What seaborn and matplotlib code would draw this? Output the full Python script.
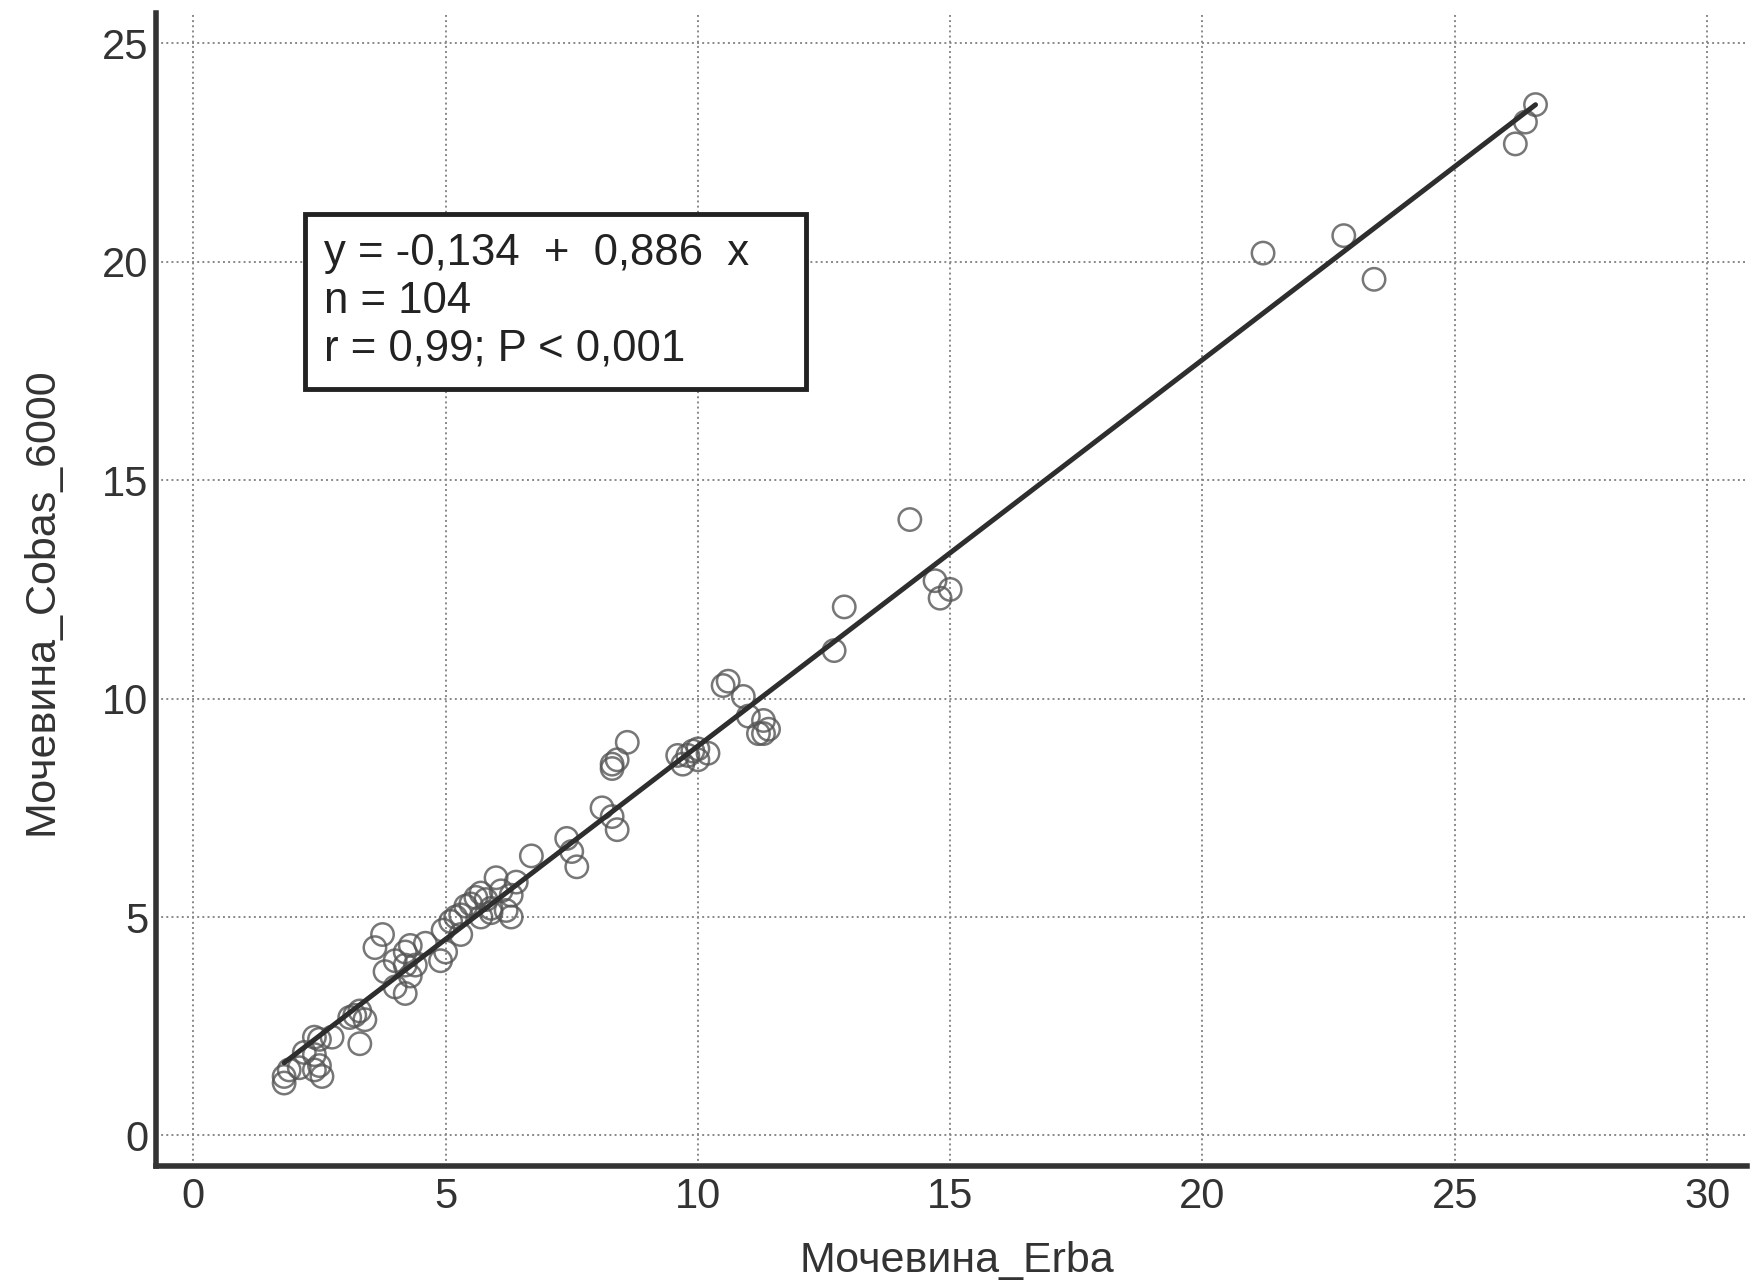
import numpy as np
import pandas as pd
import matplotlib
matplotlib.use('Agg')
import matplotlib.pyplot as plt
import seaborn as sns

# values (Erba vs Cobas 6000 urea)
erba = [
    1.8, 1.8, 1.9, 2.1, 2.2, 2.4, 2.4, 2.4, 2.5, 2.55, 2.5, 2.75,
    3.2, 3.3, 3.4, 3.3, 3.1,
    3.75, 3.6, 3.8, 4.0, 4.2, 4.2, 4.3, 4.3, 4.4, 4.2, 4.6, 4.0,
    4.9, 4.95, 5.0, 5.3, 5.1, 5.2, 5.3, 5.4, 5.6, 5.7, 5.7, 5.9, 5.9,
    6.0, 6.2, 6.3, 6.3, 6.4, 5.5, 5.8, 6.1,
    6.7, 7.4, 7.5, 7.6,
    8.1, 8.3, 8.4, 8.3, 8.4, 8.6, 8.3,
    9.6, 9.7, 9.8, 10.0, 10.2, 10.0, 9.9,
    10.5, 10.6, 10.9, 11.0, 11.3, 11.3, 11.2, 11.4,
    12.7, 12.9,
    14.2, 14.7, 14.8, 15.0,
    21.2, 22.8, 23.4,
    26.2, 26.4, 26.6,
]
cobas = [
    1.35, 1.2, 1.5, 1.55, 1.9, 2.25, 1.85, 1.5, 1.6, 1.35, 2.2, 2.25,
    2.75, 2.85, 2.65, 2.1, 2.7,
    4.6, 4.3, 3.75, 3.4, 4.2, 3.9, 4.35, 3.65, 3.9, 3.25, 4.4, 4.0,
    4.0, 4.7, 4.2, 4.6, 4.9, 5.0, 5.05, 5.25, 5.45, 5.55, 5.0, 5.2, 5.1,
    5.9, 5.15, 5.5, 5.0, 5.8, 5.3, 5.4, 5.6,
    6.4, 6.8, 6.5, 6.15,
    7.5, 7.3, 7.0, 8.4, 8.6, 9.0, 8.5,
    8.7, 8.5, 8.7, 8.85, 8.75, 8.6, 8.8,
    10.3, 10.4, 10.05, 9.6, 9.5, 9.2, 9.2, 9.3,
    11.1, 12.1,
    14.1, 12.7, 12.3, 12.5,
    20.2, 20.6, 19.6,
    22.7, 23.2, 23.6,
]
x_ticks = [0, 5, 10, 15, 20, 25, 30]
y_ticks = [0, 5, 10, 15, 20, 25]
stats_text = 'y = -0,134  +  0,886  x   \nn = 104\nr = 0,99; P < 0,001'

df = pd.DataFrame({'Мочевина_Erba': erba, 'Мочевина_Cobas_6000': cobas})

sns.set_style('white')
plt.rcParams['font.family'] = ['Liberation Sans', 'DejaVu Sans']

fig = plt.figure(figsize=(17.58, 12.87), dpi=100)
ax = fig.add_axes([0.089, 0.094, 0.905, 0.896])

sns.regplot(data=df, x='Мочевина_Erba', y='Мочевина_Cobas_6000', ax=ax, ci=None,
            scatter_kws=dict(s=260, facecolors='none', edgecolors='#555555', linewidths=1.8),
            line_kws=dict(color='#2e2e2e', lw=3.6))

ax.set_xlim(-0.73, 30.8)
ax.set_ylim(-0.7, 25.7)
ax.set_xticks(x_ticks)
ax.set_yticks(y_ticks)
ax.grid(True, linestyle=':', color='#888888', lw=1.4)
ax.set_axisbelow(True)

for side in ['top', 'right']:
    ax.spines[side].set_visible(False)
for side in ['left', 'bottom']:
    ax.spines[side].set_linewidth(4)
    ax.spines[side].set_color('#333333')

ax.tick_params(direction='in', length=24, width=2.4, color='#333333',
               labelsize=30, labelcolor='#333333')
ax.tick_params(axis='y', pad=6)
ax.tick_params(axis='x', pad=8)

ax.set_xlabel('Мочевина_Erba', fontsize=31, color='#333333')
ax.set_ylabel('Мочевина_Cobas_6000', fontsize=31, color='#333333')
ax.xaxis.set_label_coords(0.503, -0.082)
ax.xaxis.label.set_va('center')
ax.yaxis.set_label_coords(-0.072, 0.49)
ax.yaxis.label.set_va('center')

ax.text(2.6, 20.65, stats_text, fontsize=31.5, color='#222222', va='top', ha='left',
        linespacing=1.2,
        bbox=dict(boxstyle='square,pad=0.45', fc='white', ec='#222222', lw=3.5))

plt.savefig('out.png', dpi=100)
